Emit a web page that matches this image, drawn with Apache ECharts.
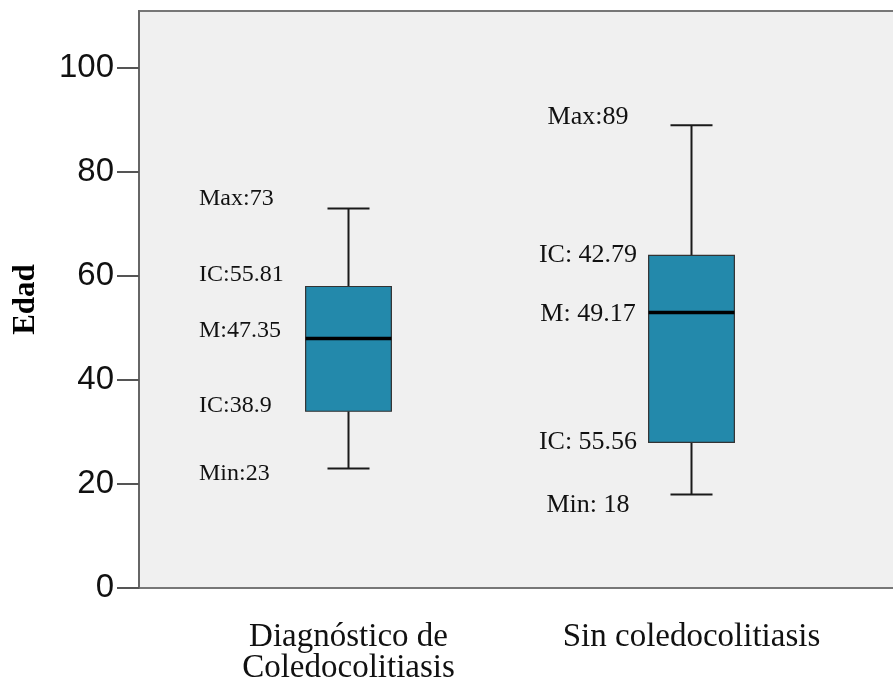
<!DOCTYPE html>
<html><head><meta charset="utf-8">
<script src="https://cdn.jsdelivr.net/npm/echarts@6/dist/echarts.min.js"></script>
<style>html,body{margin:0;padding:0;background:#fff}#c{width:893px;height:684px}</style>
</head><body><div id="c"></div>
<script>
const categories = ['Diagnóstico de\nColedocolitiasis', 'Sin coledocolitiasis'];
const minValues = [23, 18];
const q1Values = [34, 28];
const medianValues = [48, 53];
const q3Values = [58, 64];
const maxValues = [73, 89];
const yTicks = [0, 20, 40, 60, 80, 100];
const annotationTexts = [
  ['Max:73', 'IC:55.81', 'M:47.35', 'IC:38.9', 'Min:23'],
  ['Max:89', 'IC: 42.79', 'M: 49.17', 'IC: 55.56', 'Min: 18']
];
const yAxisName = 'Edad';

// styling of annotations (pixel offsets relative to the stat they describe)
const annStyle = [
  { dx: -149.5, align: 'left', size: 24, dy: [-10, -12, -8, -6, 5] },
  { dx: -103.5, align: 'center', size: 26, dy: [-8, 0, 2, 0, 11] }
];

const boxData = categories.map((c, i) => [i, minValues[i], q1Values[i], medianValues[i], q3Values[i], maxValues[i]]);

function renderItem(params, api) {
  const i = api.value(0);
  const pMin = api.coord([i, api.value(1)]);
  const pQ1 = api.coord([i, api.value(2)]);
  const pMed = api.coord([i, api.value(3)]);
  const pQ3 = api.coord([i, api.value(4)]);
  const pMax = api.coord([i, api.value(5)]);
  const band = api.size([1, 0])[0];
  const bw = band * 0.25;
  const cw = bw * 0.49;
  const x = pMed[0];
  const lineStyle = { stroke: '#1a1a1a', lineWidth: 2 };
  const children = [
    { type: 'line', shape: { x1: x, y1: pQ3[1], x2: x, y2: pMax[1] }, style: lineStyle },
    { type: 'line', shape: { x1: x, y1: pQ1[1], x2: x, y2: pMin[1] }, style: lineStyle },
    { type: 'line', shape: { x1: x - cw / 2, y1: pMax[1], x2: x + cw / 2, y2: pMax[1] }, style: lineStyle },
    { type: 'line', shape: { x1: x - cw / 2, y1: pMin[1], x2: x + cw / 2, y2: pMin[1] }, style: lineStyle },
    { type: 'rect', shape: { x: x - bw / 2, y: pQ3[1], width: bw, height: pQ1[1] - pQ3[1] },
      style: { fill: '#2389ab', stroke: '#333', lineWidth: 1.2 } },
    { type: 'line', shape: { x1: x - bw / 2, y1: pMed[1], x2: x + bw / 2, y2: pMed[1] },
      style: { stroke: '#000', lineWidth: 3.5 } }
  ];
  const st = annStyle[i];
  const ys = [pMax[1], pQ3[1], pMed[1], pQ1[1], pMin[1]];
  annotationTexts[i].forEach((t, k) => {
    children.push({
      type: 'text',
      style: {
        text: t, x: x + st.dx, y: ys[k] + st.dy[k],
        font: st.size + 'px "Liberation Serif", "Times New Roman", serif',
        fill: '#111', align: st.align, verticalAlign: 'middle'
      }
    });
  });
  return { type: 'group', children };
}

const chart = echarts.init(document.getElementById('c'), null, { renderer: 'canvas' });
chart.setOption({
  animation: false,
  backgroundColor: '#fff',
  grid: [
    { left: 139, top: 11, right: -20, bottom: 96, show: true, backgroundColor: '#f0f0f0',
      borderColor: '#777', borderWidth: 2, containLabel: false, outerBoundsMode: 'none' },
    { left: 177, width: 686, top: 11, bottom: 96, containLabel: false, outerBoundsMode: 'none' }
  ],
  xAxis: [
    { gridIndex: 0, type: 'value', show: false, min: 0, max: 1 },
    { gridIndex: 1, type: 'category', data: categories,
      axisLine: { show: false },
      axisTick: { alignWithLabel: true, length: 22, lineStyle: { color: '#444', width: 1.5 } },
      axisLabel: { fontFamily: '"Liberation Serif", "Times New Roman", serif', fontSize: 33,
        color: '#111', lineHeight: 31, margin: 34 } }
  ],
  yAxis: [
    { gridIndex: 0, type: 'value', min: 0, max: 111, interval: 20,
      name: yAxisName, nameLocation: 'middle', nameGap: 98, nameMoveOverlap: false,
      nameTextStyle: { fontFamily: '"Liberation Serif", "Times New Roman", serif', fontWeight: 'bold',
        fontSize: 31, color: '#000' },
      axisLine: { show: true, lineStyle: { color: '#666', width: 2 } },
      axisTick: { show: true, customValues: yTicks, length: 22, lineStyle: { color: '#555', width: 2 } },
      axisLabel: { customValues: yTicks, fontFamily: '"Liberation Sans", Arial, sans-serif', fontSize: 33,
        color: '#111', margin: 25 },
      splitLine: { show: false } },
    { gridIndex: 1, type: 'value', min: 0, max: 111, show: false }
  ],
  series: [
    { type: 'custom', xAxisIndex: 1, yAxisIndex: 1, renderItem, data: boxData, clip: false }
  ]
});
</script>
</body></html>
